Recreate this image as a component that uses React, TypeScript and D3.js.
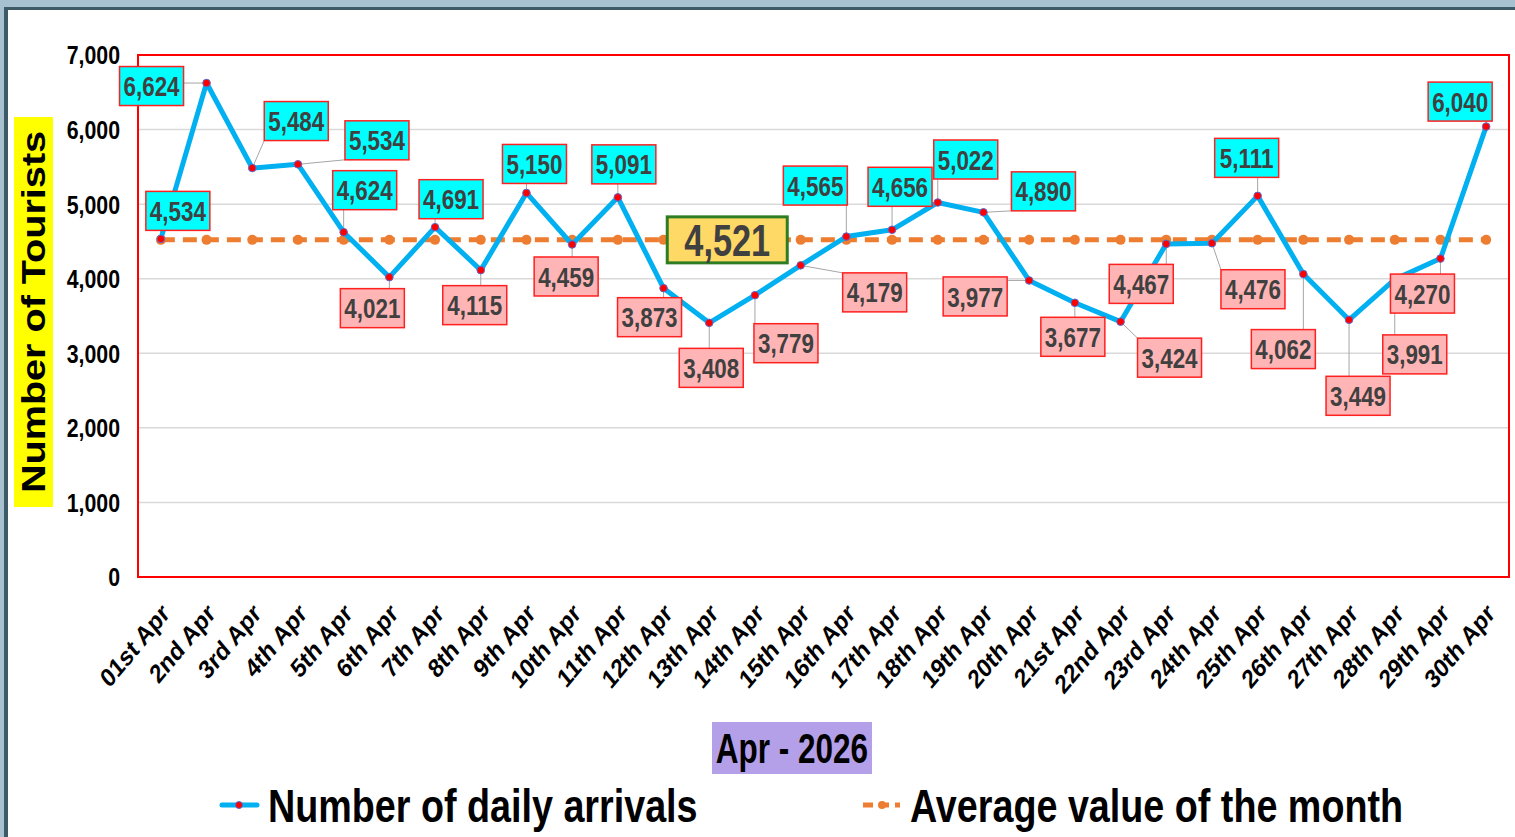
import React from "react";
import * as d3 from "d3";

const days = [
  "01st Apr", "2nd Apr", "3rd Apr", "4th Apr", "5th Apr", "6th Apr", "7th Apr", "8th Apr",
  "9th Apr", "10th Apr", "11th Apr", "12th Apr", "13th Apr", "14th Apr", "15th Apr", "16th Apr",
  "17th Apr", "18th Apr", "19th Apr", "20th Apr", "21st Apr", "22nd Apr", "23rd Apr", "24th Apr",
  "25th Apr", "26th Apr", "27th Apr", "28th Apr", "29th Apr", "30th Apr",
];

const arrivals = [
  4534, 6624, 5484, 5534, 4624, 4021, 4691, 4115, 5150, 4459,
  5091, 3873, 3408, 3779, 4179, 4565, 4656, 5022, 4890, 3977,
  3677, 3424, 4467, 4476, 5111, 4062, 3449, 3991, 4270, 6040,
];

const monthAverage = 4521;

const yTicks = [0, 1000, 2000, 3000, 4000, 5000, 6000, 7000];

const yTitle = "Number of Tourists";
const xTitle = "Apr - 2026";
const legendSeries = "Number of daily arrivals";
const legendAverage = "Average value of the month";

// label placement offsets (pixels relative to the point) - layout only
const labelOffsets: [number, number][] = [
  [17, -28], [-55, 3], [44, -47], [79, -24], [21, -42], [-17, 31], [16, -28], [-6, 35],
  [8, -29], [-6, 32], [6, -33], [-14, 29], [2, 45], [31, 48], [74, 27], [-31, -51],
  [8, -43], [28, -43], [60, -21], [-54, 16], [-2, 34], [49, 36], [-25, 40], [41, 46],
  [-11, -38], [-20, 75], [9, 76], [20, 75], [-18, 35], [-26, -25],
];

const W = 1515;
const H = 837;
const plot = { left: 138, right: 1509, top: 55, bottom: 577 };

const sans = "'Liberation Sans', Arial, sans-serif";

type STextProps = {
  x: number;
  y: number;
  size: number;
  sx?: number;
  sy?: number;
  anchor?: "start" | "middle" | "end";
  fill?: string;
  children: React.ReactNode;
};

function SText({ x, y, size, sx = 1, sy = 1, anchor = "start", fill = "#000", children }: STextProps) {
  return (
    <text
      transform={`translate(${x},${y}) scale(${sx},${sy})`}
      dy="0.36em"
      textAnchor={anchor}
      fontFamily={sans}
      fontWeight="bold"
      fontSize={size}
      fill={fill}
    >
      {children}
    </text>
  );
}

export default function App() {
  const x = d3.scaleBand<string>().domain(days).range([plot.left, plot.right]).padding(0);
  const y = d3.scaleLinear().domain([0, 7000]).range([plot.bottom, plot.top]);
  const cx = (d: string) => (x(d) as number) + x.bandwidth() / 2;

  const line = d3
    .line<number>()
    .x((_, i) => cx(days[i]))
    .y((v) => y(v));

  const fmt = d3.format(",");
  const boxW = 64;
  const boxH = 39;

  const labels = arrivals.map((v, i) => {
    const px = cx(days[i]);
    const py = y(v);
    const [dx, dy] = labelOffsets[i];
    const lx = px + dx;
    const ly = py + dy;
    const nx = Math.max(lx - boxW / 2, Math.min(px, lx + boxW / 2));
    const ny = Math.max(ly - boxH / 2, Math.min(py, ly + boxH / 2));
    const dist = Math.hypot(nx - px, ny - py);
    return { v, px, py, lx, ly, nx, ny, dist, above: v >= monthAverage };
  });

  const avgY = y(monthAverage);
  const avgLabelX = cx(days[12]) + 18;

  return (
    <svg
      width={W}
      height={H}
      style={{ position: "absolute", left: 0, top: 0, background: "#ffffff" }}
    >
      {/* outer frame */}
      <rect x={0} y={0} width={W} height={8} fill="#a7c1d0" />
      <rect x={0} y={7} width={W} height={3} fill="#3d5b66" />
      <rect x={0} y={0} width={4} height={H} fill="#a7c1d0" />
      <rect x={4} y={7} width={4} height={H} fill="#3d5b66" />

      {/* gridlines */}
      {yTicks.filter((t) => t > 0 && t < 7000).map((t) => (
        <line key={t} x1={plot.left} x2={plot.right} y1={y(t)} y2={y(t)} stroke="#d9d9d9" strokeWidth={1.5} />
      ))}

      {/* plot border */}
      <rect
        x={plot.left}
        y={plot.top}
        width={plot.right - plot.left}
        height={plot.bottom - plot.top}
        fill="none"
        stroke="#ff0000"
        strokeWidth={2}
      />

      {/* y tick labels */}
      {yTicks.map((t) => (
        <SText key={t} x={120} y={y(t)} size={26} sx={0.82} anchor="end">
          {fmt(t)}
        </SText>
      ))}

      {/* y title */}
      <rect x={14} y={117} width={39} height={390} fill="#ffff00" />
      <text
        transform={`translate(${45},${312}) rotate(-90) scale(1.2,1)`}
        textAnchor="middle"
        fontFamily={sans}
        fontWeight="bold"
        fontSize={33}
        fill="#000"
      >
        {yTitle}
      </text>

      {/* x tick labels */}
      {days.map((d) => (
        <text
          key={d}
          transform={`translate(${cx(d) + 10},${615}) scale(1,1.2) rotate(-45)`}
          textAnchor="end"
          fontFamily={sans}
          fontWeight="bold"
          fontSize={22}
          fill="#000"
        >
          {d}
        </text>
      ))}

      {/* average line */}
      <line
        x1={cx(days[0])}
        x2={cx(days[days.length - 1])}
        y1={avgY}
        y2={avgY}
        stroke="#ed7d31"
        strokeWidth={5}
        strokeDasharray="14 8"
      />
      {days.map((d) => (
        <circle key={d} cx={cx(d)} cy={avgY} r={5} fill="#ed7d31" />
      ))}

      {/* leader lines */}
      {labels.map((l, i) =>
        l.dist > 4 ? (
          <line key={i} x1={l.px} y1={l.py} x2={l.nx} y2={l.ny} stroke="#a6a6a6" strokeWidth={1} />
        ) : null
      )}

      {/* arrivals line */}
      <path d={line(arrivals) as string} fill="none" stroke="#00b0f0" strokeWidth={5} strokeLinejoin="round" />
      {arrivals.map((v, i) => (
        <circle key={i} cx={cx(days[i])} cy={y(v)} r={3.8} fill="#ff0000" stroke="#5b6bd0" strokeWidth={1} />
      ))}

      {/* data labels */}
      {labels.map((l, i) => (
        <g key={i}>
          <rect
            x={l.lx - boxW / 2}
            y={l.ly - boxH / 2}
            width={boxW}
            height={boxH}
            fill={l.above ? "#00ffff" : "#ffb5b5"}
            stroke="#ff2020"
            strokeWidth={1.5}
          />
          <SText x={l.lx} y={l.ly} size={28} sx={0.8} anchor="middle" fill="#404040">
            {fmt(l.v)}
          </SText>
        </g>
      ))}

      {/* average label */}
      <rect x={avgLabelX - 60} y={avgY - 23} width={120} height={46} fill="#ffd966" stroke="#2e7d22" strokeWidth={3} />
      <SText x={avgLabelX} y={avgY} size={44} sx={0.78} anchor="middle" fill="#404040">
        {fmt(monthAverage)}
      </SText>

      {/* x title */}
      <rect x={712} y={722} width={160} height={52} fill="#b4a0e8" />
      <SText x={792} y={748} size={42} sx={0.75} anchor="middle">
        {xTitle}
      </SText>

      {/* legend */}
      <line x1={222} x2={257} y1={805} y2={805} stroke="#00b0f0" strokeWidth={5} strokeLinecap="round" />
      <circle cx={239} cy={805} r={3.5} fill="#ff0000" stroke="#5b6bd0" strokeWidth={1} />
      <SText x={268} y={805} size={46} sx={0.82}>
        {legendSeries}
      </SText>
      <line x1={863} x2={900} y1={805} y2={805} stroke="#ed7d31" strokeWidth={5} strokeDasharray="10 6" />
      <circle cx={882} cy={805} r={4} fill="#ed7d31" />
      <SText x={910} y={805} size={46} sx={0.82}>
        {legendAverage}
      </SText>
    </svg>
  );
}
